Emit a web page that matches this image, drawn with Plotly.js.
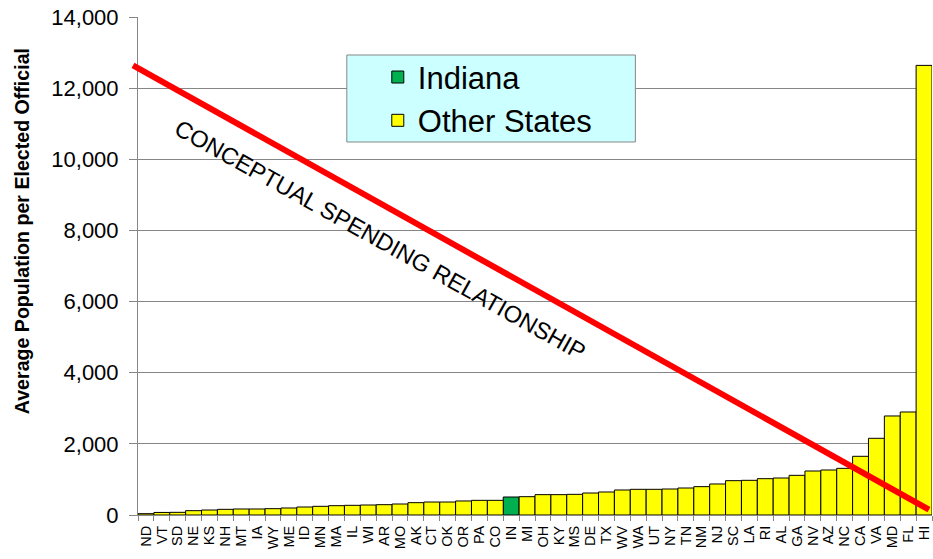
<!DOCTYPE html>
<html>
<head>
<meta charset="utf-8">
<script src="https://cdn.plot.ly/plotly-3.0.1.min.js"></script>
<style>html,body{margin:0;padding:0;background:#fff;}#chart{width:933px;height:559px;}</style>
</head>
<body>
<div id="chart"></div>
<script>
// ---- Data ----
var states = ["ND","VT","SD","NE","KS","NH","MT","IA","WY","ME","ID","MN","MA","IL","WI","AR","MO","AK","CT","OK","OR","PA","CO","IN","MI","OH","KY","MS","DE","TX","WV","WA","UT","NY","TN","NM","NJ","SC","LA","RI","AL","GA","NV","AZ","NC","CA","VA","MD","FL","HI"];
var popPerOfficial = [37,72,75,122,140,159,169,169,178,197,225,244,262,272,281,290,309,347,365,365,394,412,412,506,515,572,572,581,618,647,703,722,722,731,759,797,872,965,975,1021,1040,1115,1237,1265,1312,1650,2156,2784,2896,12640];
var highlightState = "IN";
var seriesNames = ["Indiana","Other States"];
var yTickVals = [0,2000,4000,6000,8000,10000,12000,14000];
var conceptLineY = [12640, 150];   // conceptual relationship line, start/end values
var yTitle = "Average Population per Elected Official";
var conceptText = "CONCEPTUAL SPENDING RELATIONSHIP";

// ---- Split into the two series ----
var inX = [], inY = [], otX = [], otY = [];
states.forEach(function(s, i){
  if (s === highlightState) { inX.push(s); inY.push(popPerOfficial[i]); }
  else { otX.push(s); otY.push(popPerOfficial[i]); }
});

var font = "Liberation Sans, Arial, sans-serif";

var traces = [
  {type:"bar", x: inX, y: inY, name: seriesNames[0],
   marker:{color:"#00b050", line:{color:"#000000", width:1}}},
  {type:"bar", x: otX, y: otY, name: seriesNames[1],
   marker:{color:"#ffff00", line:{color:"#000000", width:1}}}
];

var layout = {
  width: 933, height: 559,
  margin: {l:138, r:1, t:17, b:44, pad:0},
  paper_bgcolor:"#ffffff", plot_bgcolor:"#ffffff",
  barmode:"overlay", bargap:0,
  font:{family:font, color:"#000000"},
  showlegend:true,
  legend:{x:0.302, xanchor:"left", y:0.933, yanchor:"top",
          bgcolor:"rgba(0,0,0,0)", borderwidth:0,
          font:{size:31, family:font, color:"#000"},
          traceorder:"normal"},
  xaxis:{type:"category", categoryorder:"array", categoryarray: states,
         range:[-0.5, states.length-0.5],
         tickmode:"linear", tick0:0, dtick:1,
         tickangle:-90, tickfont:{size:14.5, family:font, color:"#000"},
         showline:true, linecolor:"#868686", linewidth:1,
         ticks:"outside", tickson:"boundaries", ticklen:5, tickcolor:"#868686",
         ticklabelstandoff:4,
         showgrid:false, zeroline:false, fixedrange:true},
  yaxis:{range:[0,14000], tickvals: yTickVals, tickformat:",d",
         tickfont:{size:22, family:font, color:"#000"},
         showline:true, linecolor:"#868686", linewidth:1,
         ticks:"outside", ticklen:8, tickcolor:"#868686", ticklabelstandoff:6,
         showgrid:true, gridcolor:"#868686", gridwidth:1,
         zeroline:false, fixedrange:true},
  shapes:[
    {type:"rect", xref:"paper", yref:"paper", x0:0.263, x1:0.6264, y0:0.749, y1:0.9237,
     fillcolor:"#ccffff", line:{color:"#868686", width:1}, layer:"above"},
    {type:"line", xref:"paper", yref:"y", x0:-0.0063, x1:0.9962, y0:conceptLineY[0], y1:conceptLineY[1],
     line:{color:"#ff0000", width:6}, layer:"above"}
  ],
  annotations:[
    {text: conceptText, xref:"paper", yref:"paper", x:0.305, y:0.552,
     xanchor:"center", yanchor:"middle", textangle:29.2, showarrow:false,
     font:{size:23.5, family:font, color:"#000"}},
    {text: "<b>"+yTitle+"</b>", xref:"paper", yref:"paper", x:-0.146, y:0.570,
     xanchor:"center", yanchor:"middle", textangle:-90, showarrow:false,
     font:{size:19.6, family:font, color:"#000"}}
  ]
};

Plotly.newPlot("chart", traces, layout, {displayModeBar:false, staticPlot:true});
</script>
</body>
</html>
